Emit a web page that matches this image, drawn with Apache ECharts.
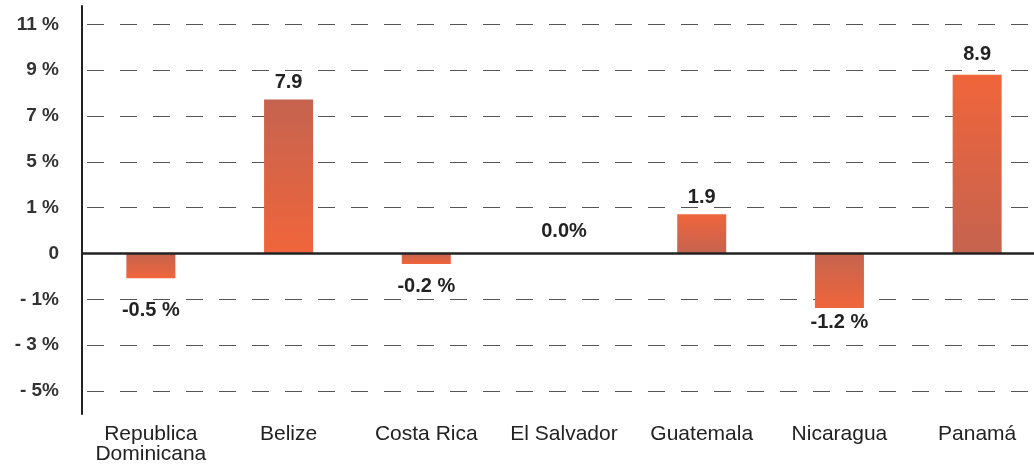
<!DOCTYPE html>
<html>
<head>
<meta charset="utf-8">
<script src="https://cdn.jsdelivr.net/npm/echarts@6/dist/echarts.min.js"></script>
<style>
  html, body { margin: 0; padding: 0; background: #fff; }
  #main { width: 1034px; height: 464px; }
</style>
</head>
<body>
<div id="main"></div>
<script>
// countries
var categories = ['Republica\nDominicana', 'Belize', 'Costa Rica', 'El Salvador', 'Guatemala', 'Nicaragua', 'Panamá'];
// bar heights, in grid steps (one step between two dashed lines)
var heights = [-0.54, 3.36, -0.23, 0, 0.86, -1.19, 3.9];
// printed value labels
var valueLabels = ['-0.5 %', '7.9', '-0.2 %', '0.0%', '1.9', '-1.2 %', '8.9'];
// y axis ticks (grid steps) and their printed text
var tickValues = [-3, -2, -1, 0, 1, 2, 3, 4, 5];
var tickLabels = ['- 5%', '- 3 %', '- 1%', '0', '1 %', '5 %', '7 %', '9 %', '11 %'];

// styling per bar: which are darker on top, gap between bar end and its label
var brownTop = [true, true, true, true, false, true, false];
var labelGap = [22, 7, 12, 12, 7, 4, 10];

var BROWN = '#c5634f';
var ORANGE = '#f0653b';
var FONT = 'Liberation Sans';

var chart = echarts.init(document.getElementById('main'));

var barData = heights.map(function (v, i) {
  var top = brownTop[i] ? BROWN : ORANGE;
  var bottom = brownTop[i] ? ORANGE : BROWN;
  return {
    value: v,
    itemStyle: {
      color: new echarts.graphic.LinearGradient(0, 0, 0, 1, [
        { offset: 0, color: top },
        { offset: 1, color: bottom }
      ])
    },
    label: {
      position: v < 0 ? 'bottom' : 'top',
      distance: labelGap[i]
    }
  };
});

var option = {
  backgroundColor: '#fff',
  animation: false,
  grid: {
    left: 82,
    width: 964,
    top: 6,
    bottom: 50,
    containLabel: false,
    outerBoundsMode: 'none'
  },
  xAxis: {
    type: 'category',
    data: categories,
    axisLine: { show: false, onZero: false },
    axisTick: { show: false },
    splitLine: { show: false },
    axisLabel: {
      margin: 10,
      color: '#222',
      fontFamily: FONT,
      fontSize: 21,
      lineHeight: 20,
      interval: 0
    }
  },
  yAxis: {
    type: 'value',
    min: -3.5,
    max: 5.4,
    axisLine: { show: true, lineStyle: { color: '#222', width: 2 } },
    axisTick: { show: false, customValues: tickValues },
    axisLabel: {
      customValues: tickValues,
      margin: 23,
      color: '#333',
      fontFamily: FONT,
      fontWeight: 'bold',
      fontSize: 19,
      formatter: function (val) {
        var idx = tickValues.indexOf(Math.round(val));
        return idx >= 0 ? tickLabels[idx] : '';
      }
    },
    splitLine: {
      show: true,
      lineStyle: { color: '#555', width: 1.2, type: [17, 16], dashOffset: 28 }
    }
  },
  series: [{
    type: 'bar',
    data: barData,
    barWidth: 49,
    label: {
      show: true,
      color: '#222',
      fontFamily: FONT,
      fontWeight: 'bold',
      fontSize: 20,
      formatter: function (p) {
        return valueLabels[p.dataIndex];
      }
    },
    markLine: {
      silent: true,
      symbol: 'none',
      label: { show: false },
      lineStyle: { color: '#222', width: 2.5, type: 'solid' },
      data: [{ yAxis: 0 }]
    }
  }]
};

chart.setOption(option);
</script>
</body>
</html>
